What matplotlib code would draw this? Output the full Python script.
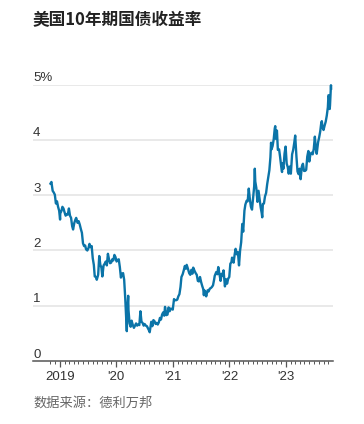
import matplotlib
matplotlib.use("Agg")
import matplotlib.pyplot as plt
import matplotlib.transforms as mtransforms
import pandas as pd

# ---------------- data ----------------
dates = [
    "2018-11-02","2018-11-08","2018-11-16","2018-11-23","2018-11-30","2018-12-07","2018-12-14","2018-12-21","2018-12-28",
    "2019-01-03","2019-01-04","2019-01-11","2019-01-18","2019-01-25","2019-02-01","2019-02-08","2019-02-15","2019-02-22",
    "2019-03-01","2019-03-08","2019-03-15","2019-03-22","2019-03-28","2019-04-05","2019-04-12","2019-04-17","2019-04-26",
    "2019-05-03","2019-05-10","2019-05-17","2019-05-24","2019-05-31","2019-06-07","2019-06-14","2019-06-20","2019-06-28",
    "2019-07-05","2019-07-12","2019-07-19","2019-07-26","2019-08-02","2019-08-09","2019-08-15","2019-08-23","2019-08-28",
    "2019-09-06","2019-09-13","2019-09-20","2019-09-27","2019-10-03","2019-10-11","2019-10-18","2019-10-25","2019-11-01",
    "2019-11-08","2019-11-15","2019-11-22","2019-11-29","2019-12-06","2019-12-13","2019-12-20","2019-12-27",
    "2020-01-03","2020-01-10","2020-01-17","2020-01-24","2020-01-31","2020-02-07","2020-02-14","2020-02-21","2020-02-28",
    "2020-03-06","2020-03-09","2020-03-13","2020-03-18","2020-03-20","2020-03-27","2020-04-03","2020-04-09","2020-04-17",
    "2020-04-24","2020-05-01","2020-05-08","2020-05-15","2020-05-22","2020-05-29","2020-06-05","2020-06-12","2020-06-19",
    "2020-06-26","2020-07-02","2020-07-10","2020-07-17","2020-07-24","2020-07-31","2020-08-04","2020-08-14","2020-08-21",
    "2020-08-28","2020-09-04","2020-09-11","2020-09-18","2020-09-25","2020-10-02","2020-10-09","2020-10-16","2020-10-23",
    "2020-10-30","2020-11-06","2020-11-11","2020-11-20","2020-11-27","2020-12-04","2020-12-11","2020-12-18","2020-12-24",
    "2020-12-31",
    "2021-01-08","2021-01-15","2021-01-22","2021-01-29","2021-02-05","2021-02-12","2021-02-19","2021-02-25","2021-03-05",
    "2021-03-12","2021-03-19","2021-03-26","2021-03-31","2021-04-09","2021-04-16","2021-04-23","2021-04-30","2021-05-07",
    "2021-05-12","2021-05-21","2021-05-28","2021-06-04","2021-06-11","2021-06-18","2021-06-25","2021-07-02","2021-07-09",
    "2021-07-16","2021-07-20","2021-07-23","2021-07-30","2021-08-04","2021-08-13","2021-08-20","2021-08-27","2021-09-03",
    "2021-09-10","2021-09-17","2021-09-24","2021-09-28","2021-10-08","2021-10-15","2021-10-21","2021-10-29","2021-11-05",
    "2021-11-12","2021-11-19","2021-11-24","2021-11-30","2021-12-03","2021-12-10","2021-12-17","2021-12-24","2021-12-31",
    "2022-01-07","2022-01-14","2022-01-18","2022-01-28","2022-02-04","2022-02-10","2022-02-18","2022-02-25","2022-03-04",
    "2022-03-11","2022-03-18","2022-03-25","2022-03-31","2022-04-08","2022-04-14","2022-04-22","2022-04-29","2022-05-06",
    "2022-05-13","2022-05-20","2022-05-27","2022-06-03","2022-06-10","2022-06-14","2022-06-17","2022-06-24","2022-07-01",
    "2022-07-08","2022-07-15","2022-07-22","2022-07-29","2022-08-01","2022-08-05","2022-08-12","2022-08-19","2022-08-26",
    "2022-09-02","2022-09-09","2022-09-16","2022-09-23","2022-09-27","2022-09-30","2022-10-07","2022-10-14","2022-10-21",
    "2022-10-24","2022-10-28","2022-11-04","2022-11-10","2022-11-18","2022-11-25","2022-12-02","2022-12-07","2022-12-09",
    "2022-12-16","2022-12-23","2022-12-30",
    "2023-01-06","2023-01-13","2023-01-19","2023-01-27","2023-02-02","2023-02-10","2023-02-17","2023-02-24","2023-03-02",
    "2023-03-10","2023-03-17","2023-03-24","2023-03-31","2023-04-06","2023-04-14","2023-04-21","2023-04-28","2023-05-05",
    "2023-05-12","2023-05-19","2023-05-26","2023-06-01","2023-06-09","2023-06-16","2023-06-23","2023-06-30","2023-07-07",
    "2023-07-14","2023-07-19","2023-07-28","2023-08-04","2023-08-11","2023-08-17","2023-08-21","2023-08-25","2023-09-01",
    "2023-09-08","2023-09-15","2023-09-22","2023-09-29","2023-10-03","2023-10-06","2023-10-11","2023-10-13","2023-10-17",
    "2023-10-19","2023-10-20",
]
yields = [
    3.21,3.24,3.08,3.05,3.01,2.85,2.89,2.79,2.72,
    2.56,2.67,2.71,2.79,2.76,2.69,2.63,2.66,2.65,
    2.76,2.63,2.59,2.44,2.38,2.50,2.56,2.59,2.50,
    2.53,2.47,2.39,2.32,2.13,2.08,2.09,2.02,2.00,
    2.04,2.12,2.06,2.08,1.86,1.74,1.53,1.52,1.47,
    1.56,1.90,1.74,1.69,1.53,1.73,1.76,1.80,1.73,
    1.94,1.84,1.77,1.78,1.84,1.82,1.92,1.88,
    1.80,1.83,1.84,1.70,1.51,1.58,1.59,1.47,1.13,
    0.71,0.54,0.94,1.18,0.92,0.68,0.62,0.73,0.65,
    0.60,0.64,0.68,0.64,0.66,0.65,0.90,0.71,0.69,
    0.64,0.67,0.64,0.63,0.59,0.55,0.52,0.71,0.63,
    0.74,0.72,0.67,0.69,0.66,0.70,0.78,0.75,0.84,
    0.88,0.82,0.98,0.83,0.84,0.97,0.90,0.95,0.94,
    0.93,
    1.12,1.10,1.10,1.11,1.17,1.21,1.34,1.52,1.57,
    1.64,1.72,1.67,1.74,1.66,1.59,1.56,1.65,1.58,
    1.69,1.63,1.59,1.56,1.45,1.44,1.52,1.43,1.36,
    1.30,1.19,1.28,1.24,1.17,1.28,1.26,1.31,1.32,
    1.34,1.37,1.47,1.54,1.61,1.57,1.70,1.56,1.45,
    1.58,1.54,1.64,1.44,1.35,1.48,1.40,1.49,1.52,
    1.76,1.79,1.87,1.78,1.93,2.03,1.93,1.97,1.73,
    2.00,2.15,2.48,2.34,2.72,2.83,2.90,2.89,3.12,
    2.93,2.79,2.74,2.94,3.16,3.48,3.25,3.13,2.88,
    3.08,2.93,2.78,2.67,2.60,2.84,2.85,2.98,3.04,
    3.20,3.32,3.45,3.69,3.95,3.83,3.89,4.01,4.21,
    4.25,4.02,4.17,3.82,3.83,3.68,3.51,3.42,3.58,
    3.48,3.75,3.88,
    3.57,3.51,3.39,3.52,3.39,3.74,3.82,3.95,4.08,
    3.70,3.43,3.38,3.48,3.29,3.52,3.57,3.44,3.44,
    3.46,3.70,3.80,3.61,3.75,3.77,3.74,3.84,4.06,
    3.83,3.75,3.96,4.05,4.16,4.30,4.34,4.24,4.18,
    4.26,4.33,4.44,4.59,4.81,4.80,4.56,4.63,4.85,
    4.99,4.93,
]
y_ticks = [0, 1, 2, 3, 4, 5]
y_tick_labels = ["0", "1", "2", "3", "4", "5%"]
x_major = ["2019-01-01", "2020-01-01", "2021-01-01", "2022-01-01", "2023-01-01"]
x_major_labels = ["2019", "'20", "'21", "'22", "'23"]
title = "美国10年期国债收益率"
source = "数据来源：德利万邦"

# ---------------- figure ----------------
W, H = 364, 424
fig = plt.figure(figsize=(W / 100, H / 100), dpi=100)
ax_left, ax_right = 33, 332.5
ax_bottom, ax_top = 361, 84.7
ax = fig.add_axes([ax_left / W, 1 - ax_bottom / H, (ax_right - ax_left) / W, (ax_bottom - ax_top) / H])

d = pd.to_datetime(dates)
ax.plot(d, yields, color="#0b74a8", lw=1.7, solid_joinstyle="round", clip_on=False, zorder=3)

ax.set_xlim(pd.Timestamp("2018-07-12"), pd.Timestamp("2023-10-29"))
ax.set_ylim(0, 5)

for s in ["top", "right", "left"]:
    ax.spines[s].set_visible(False)
ax.spines["bottom"].set_color("#555555")
ax.spines["bottom"].set_linewidth(1.1)
ax.spines["bottom"].set_zorder(4)

# gridlines
for v in y_ticks[1:]:
    ax.axhline(v, color="#e9e9e9", lw=1.4, zorder=1)

ax.set_yticks([])
trans = mtransforms.blended_transform_factory(ax.transAxes, ax.transData)
for v, lab in zip(y_ticks, y_tick_labels):
    ax.annotate(lab, xy=(0, v), xycoords=trans, xytext=(0, 2.5), textcoords="offset points",
                ha="left", va="baseline", fontsize=9.5, color="#333333",
                family=["Liberation Sans", "DejaVu Sans"])

ax.set_xticks(pd.to_datetime(x_major))
ax.set_xticklabels(x_major_labels, fontsize=9.5, color="#333333", family=["Liberation Sans", "DejaVu Sans"])
minor = pd.date_range("2018-11-01", "2023-10-01", freq="MS")
ax.set_xticks(minor, minor=True)
ax.tick_params(axis="x", which="major", length=4, width=0.9, color="#555555", pad=3.5)
ax.tick_params(axis="x", which="minor", length=2, width=0.7, color="#555555")

fig.text(33 / W, 1 - 20 / H, title, ha="left", va="center", fontsize=12, fontweight="bold",
         color="#222222", family=["Noto Sans CJK SC", "DejaVu Sans"])
fig.text(33 / W, 1 - 403 / H, source, ha="left", va="center", fontsize=9.5,
         color="#666666", family=["Noto Sans CJK SC", "DejaVu Sans"])

fig.savefig("out.png", dpi=100)
